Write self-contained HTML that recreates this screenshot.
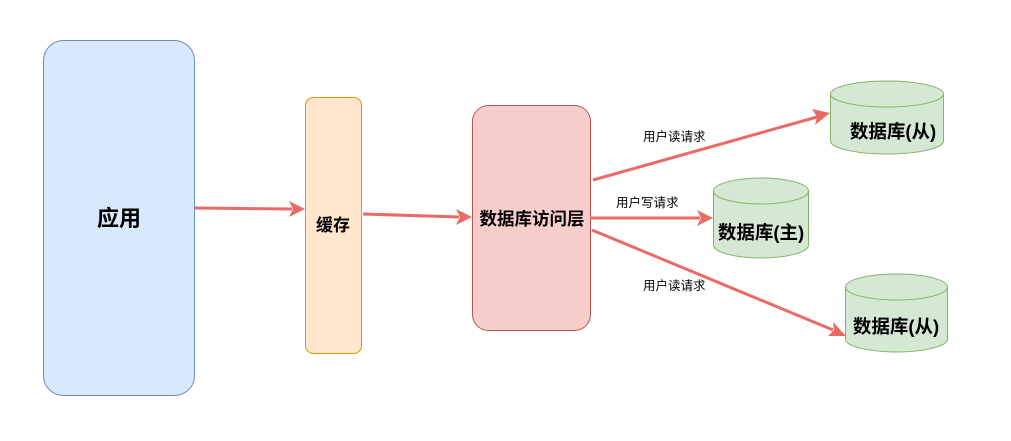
<!DOCTYPE html>
<html><head><meta charset="utf-8"><style>
body{margin:0;background:#fff;}
svg text{font-family:"Liberation Sans","Noto Sans CJK SC",sans-serif;}
</style></head><body>
<svg width="1011" height="436" viewBox="0 0 1011 436" xmlns="http://www.w3.org/2000/svg">
<rect x="43.5" y="40.5" width="151" height="355" rx="20" fill="#dae8fc" stroke="#6c8ebf"/>
<text x="119" y="226" font-size="22" font-weight="bold" text-anchor="middle">应用</text>
<rect x="305.5" y="97.5" width="56" height="256" rx="8" fill="#ffe6cc" stroke="#d79b00"/>
<text x="333" y="231" font-size="17" font-weight="bold" text-anchor="middle">缓存</text>
<rect x="472.5" y="105.5" width="118" height="225" rx="16" fill="#f8cecc" stroke="#b85450"/>
<text x="532" y="225" font-size="17.5" font-weight="bold" text-anchor="middle">数据库访问层</text>
<g stroke="#ea6b66" stroke-width="3" fill="none">
<line x1="195" y1="208" x2="292" y2="209"/>
<line x1="363" y1="214" x2="459" y2="217"/>
<line x1="593" y1="180" x2="817" y2="117"/>
<line x1="590" y1="218" x2="700" y2="218"/>
<line x1="592" y1="230" x2="833" y2="330"/>
</g>
<g fill="#ea6b66">
<polygon points="305,209 289,201 293,209 289,217"/>
<polygon points="472,217 456,209 460,217 456,225"/>
<polygon points="830,113 812,109 817,117 815,125" />
<polygon points="713,218 697,210 701,218 697,226"/>
<polygon points="846,336 833,322 834,330 828,336"/>
</g>
<g font-size="12.5" fill="#000">
<text x="643" y="141">用户读请求</text>
<text x="616" y="207">用户写请求</text>
<text x="643" y="290">用户读请求</text>
</g>
<g fill="#d5e8d4" stroke="#82b366">
<path d="M830.5,94 L830.5,141 A56.5,13 0 0 0 943.5,141 L943.5,94"/>
<ellipse cx="887" cy="94" rx="56.5" ry="13"/>
<path d="M713.5,191 L713.5,245 A47.5,13 0 0 0 808.5,245 L808.5,191"/>
<ellipse cx="761" cy="191" rx="47.5" ry="13"/>
<path d="M845.5,287 L845.5,339 A51,13 0 0 0 947.5,339 L947.5,287"/>
<ellipse cx="896.5" cy="287" rx="51" ry="13"/>
</g>
<g font-size="18.5" font-weight="bold" text-anchor="middle">
<text x="893" y="138">数据库(从)</text>
<text x="761" y="239">数据库(主)</text>
<text x="896" y="333">数据库(从)</text>
</g>
</svg>
</body></html>
